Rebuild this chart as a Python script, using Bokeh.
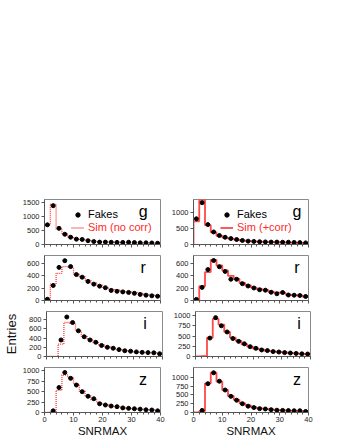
import math
from bokeh.plotting import figure
from bokeh.layouts import column, row
from bokeh.models import FixedTicker, Range1d, Label, Legend, LegendItem
from bokeh.embed import file_html
from bokeh.resources import INLINE

NAN = float("nan")

bands = ["g", "r", "i", "z"]
bin_edges = [0, 2, 4, 6, 8, 10, 12, 14, 16, 18, 20, 22, 24, 26, 28, 30, 32, 34, 36, 38, 40]
bin_centers = [1, 3, 5, 7, 9, 11, 13, 15, 17, 19, 21, 23, 25, 27, 29, 31, 33, 35, 37, 39]
x_major = [0, 10, 20, 30, 40]
x_minor = [2, 4, 6, 8, 12, 14, 16, 18, 22, 24, 26, 28, 32, 34, 36, 38]

# Left column: Fakes vs Sim (no corr)
fakes_nocorr_g = [700, 1380, 575, 365, 260, 190, 180, 135, 105, 85, 85, 80, 75, 75, 80, 70, 60, 60, 55, 45]
sim_nocorr_g = [690, 1430, 545, 380, 270, 200, 180, 150, 120, 100, 95, 90, 80, 70, 70, 60, 60, 50, 50, 40]
fakes_nocorr_r = [20, 240, 530, 637, 543, 415, 373, 305, 262, 230, 205, 161, 147, 138, 129, 115, 97, 85, 75, 68]
sim_nocorr_r = [10, 262, 435, 543, 533, 421, 380, 325, 280, 245, 205, 185, 165, 150, 140, 130, 115, 100, 85, 75]
fakes_nocorr_i = [NAN, NAN, 360, 860, 740, 560, 430, 360, 310, 240, 200, 180, 150, 125, 115, 100, 90, 85, 80, 60]
sim_nocorr_i = [0, 0, 270, 740, 720, 560, 440, 370, 300, 250, 210, 180, 150, 130, 115, 100, 90, 85, 80, 60]
fakes_nocorr_z = [NAN, 40, 600, 960, 820, 660, 500, 390, 330, 210, 180, 155, 140, 110, 100, 90, 80, 65, 60, 40]
sim_nocorr_z = [0, 20, 530, 900, 840, 680, 510, 400, 310, 230, 190, 160, 140, 120, 100, 95, 85, 70, 60, 45]

# Right column: Fakes vs Sim (+corr)
fakes_corr_g = [800, 1300, 620, 390, 280, 225, 185, 155, 125, 105, 95, 85, 80, 75, 75, 70, 70, 65, 60, 50]
sim_corr_g = [720, 1390, 600, 380, 270, 215, 180, 150, 125, 110, 95, 85, 80, 75, 70, 65, 60, 55, 50, 45]
fakes_corr_r = [18, 210, 495, 640, 540, 465, 340, 340, 270, 232, 200, 172, 165, 132, 108, 128, 88, 85, 80, 65]
sim_corr_r = [0, 230, 455, 650, 560, 480, 395, 345, 280, 240, 205, 180, 170, 140, 125, 125, 95, 85, 80, 60]
fakes_corr_i = [NAN, NAN, 450, 950, 750, 600, 440, 370, 310, 240, 200, 160, 145, 120, 110, 95, 85, 75, 65, 60]
sim_corr_i = [0, 10, 460, 920, 780, 600, 460, 380, 300, 240, 195, 170, 140, 125, 110, 100, 85, 75, 65, 50]
fakes_corr_z = [NAN, 60, 820, 1130, 890, 640, 460, 350, 250, 180, 140, 110, 100, 80, 65, 60, 55, 50, 50, 30]
sim_corr_z = [0, 40, 830, 1130, 880, 640, 470, 360, 260, 200, 150, 120, 105, 85, 70, 60, 55, 45, 40, 30]

# axis limits and tick labels per panel
ymax_left = {"g": 1600, "r": 720, "i": 980, "z": 1080}
ymax_right = {"g": 1400, "r": 720, "i": 1100, "z": 1280}
yticks_left = {"g": [0, 500, 1000, 1500], "r": [0, 200, 400, 600], "i": [0, 200, 400, 600, 800],
               "z": [0, 250, 500, 750, 1000]}
yticks_right = {"g": [0, 500, 1000], "r": [0, 200, 400, 600], "i": [0, 250, 500, 750, 1000],
                "z": [0, 250, 500, 750, 1000]}

left_data = {"g": (fakes_nocorr_g, sim_nocorr_g), "r": (fakes_nocorr_r, sim_nocorr_r),
             "i": (fakes_nocorr_i, sim_nocorr_i), "z": (fakes_nocorr_z, sim_nocorr_z)}
right_data = {"g": (fakes_corr_g, sim_corr_g), "r": (fakes_corr_r, sim_corr_r),
              "i": (fakes_corr_i, sim_corr_i), "z": (fakes_corr_z, sim_corr_z)}

FONT = "Liberation Sans"
AXC = "#555555"


def make_panel(left, band):
    fakes, sim = (left_data if left else right_data)[band]
    ymax = (ymax_left if left else ymax_right)[band]
    yt = (yticks_left if left else yticks_right)[band]
    bottom = band == "z"
    p = figure(frame_width=116 if left else 115, frame_height=45,
               x_range=Range1d(0, 40), y_range=Range1d(0, ymax),
               output_backend="svg", toolbar_location=None,
               min_border_left=44 if left else 27, min_border_right=6 if left else 10,
               min_border_top=199 if band == "g" else 6,
               min_border_bottom=27 if bottom else 5)
    p.xgrid.visible = False
    p.ygrid.visible = False
    p.outline_line_color = "#8a8a8a"
    p.background_fill_color = "white"
    p.border_fill_color = "white"
    p.xaxis.ticker = FixedTicker(ticks=x_major, minor_ticks=x_minor)
    p.yaxis.ticker = FixedTicker(ticks=yt, minor_ticks=[])
    for ax in (p.xaxis[0], p.yaxis[0]):
        ax.axis_line_color = AXC
        ax.major_tick_line_color = AXC
        ax.minor_tick_line_color = AXC
        ax.major_tick_out = 3
        ax.major_tick_in = 0
        ax.minor_tick_out = 2
        ax.minor_tick_in = 0
        ax.major_label_text_font = FONT
        ax.major_label_text_font_size = "7.5px"
        ax.major_label_text_color = "#222222"
        ax.major_label_standoff = 2
    if bottom:
        p.xaxis.major_label_standoff = 1
        p.xaxis.axis_label = "SNRMAX"
        p.xaxis.axis_label_text_font = FONT
        p.xaxis.axis_label_text_font_size = "11.5px"
        p.xaxis.axis_label_text_font_style = "normal"
        p.xaxis.axis_label_text_color = "#111111"
        p.xaxis.axis_label_standoff = 0
    else:
        p.xaxis.major_label_text_font_size = "1px"
        p.xaxis.major_label_text_color = None
        p.xaxis.major_label_standoff = 0

    if left and band == "i":
        p.yaxis.axis_label = "Entries"
        p.yaxis.axis_label_text_font = FONT
        p.yaxis.axis_label_text_font_size = "13px"
        p.yaxis.axis_label_text_font_style = "normal"
        p.yaxis.axis_label_text_color = "#111111"
        p.yaxis.axis_label_standoff = 7

    # simulated histogram as a step outline
    xs = [bin_edges[0]] + bin_edges
    ys = [0] + sim + [sim[-1]]
    if left:
        r_sim = p.step(xs, ys, mode="after", line_color="#ff3838", line_width=1.3, line_dash="1 1")
    else:
        r_sim = p.step(xs, ys, mode="after", line_color="#ff4848", line_width=1.8)
    r_fakes = p.scatter(bin_centers, fakes, size=4, marker="circle", color="black")

    p.add_layout(Label(x=34 if left else 36, y=ymax * 0.74, text=band, text_font=FONT,
                       text_font_size="16px", text_align="center", text_baseline="middle",
                       text_color="black"))

    if band == "g":
        common = dict(background_fill_alpha=0, border_line_alpha=0, padding=0, margin=0, spacing=0,
                      glyph_width=13, glyph_height=11, label_height=11, label_standoff=4,
                      label_text_font=FONT, label_text_font_size="11px")
        leg1 = Legend(items=[LegendItem(label="Fakes", renderers=[r_fakes])], location=(27, 24),
                      label_text_color="black", **common)
        leg2 = Legend(items=[LegendItem(label="Sim (no corr)" if left else "Sim (+corr)",
                                        renderers=[r_sim])],
                      location=(27, 11), label_text_color="#ff2a2a", **common)
        p.add_layout(leg1)
        p.add_layout(leg2)
    return p


rows = [row(make_panel(True, b), make_panel(False, b)) for b in bands]
layout = column(*rows)
open("out.html", "w").write(file_html(layout, INLINE))
